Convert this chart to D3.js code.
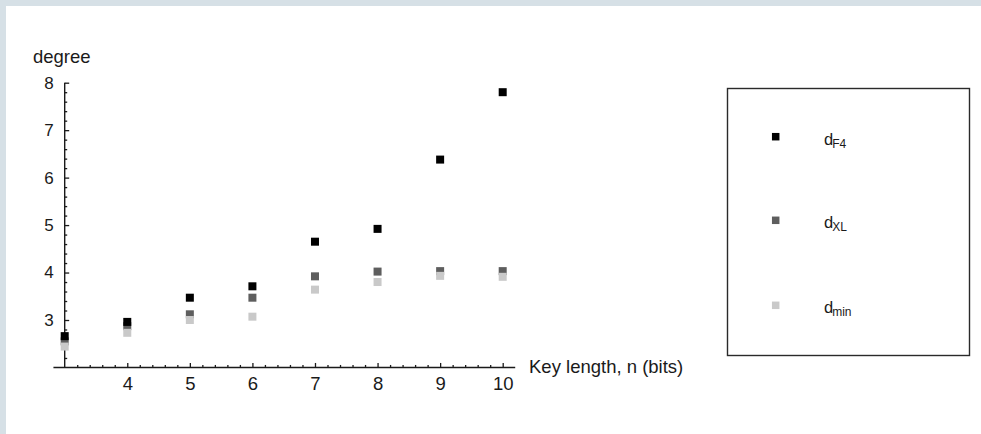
<!DOCTYPE html>
<html>
<head>
<meta charset="utf-8">
<script src="https://cdn.jsdelivr.net/npm/d3@7"></script>
<style>
  body { margin: 0; background: #fff; }
  svg text { font-family: "Liberation Sans", Arial, sans-serif; fill: #1a1a1a; }
</style>
</head>
<body>
<div id="chart"></div>
<script>
// key length n (bits)
var keyLength = [3, 4, 5, 6, 7, 8, 9, 10];
// degree values
var dF4  = [2.66, 2.96, 3.47, 3.71, 4.65, 4.92, 6.38, 7.80];
var dXL  = [2.55, 2.87, 3.12, 3.47, 3.92, 4.02, 4.03, 4.03];
var dMin = [2.44, 2.73, 3.00, 3.07, 3.64, 3.80, 3.93, 3.91];
var xTicks = [4, 5, 6, 7, 8, 9, 10];
var yTicks = [3, 4, 5, 6, 7, 8];
var seriesNames = ["dXL", "dmin", "dF4"];

var W = 981, H = 434;

var svg = d3.select("#chart")
    .append("svg")
    .attr("width", W)
    .attr("height", H);

// light frame on top and left
svg.append("rect").attr("x", 0).attr("y", 0).attr("width", W).attr("height", H).attr("fill", "#d6e0e6");
svg.append("rect").attr("x", 6).attr("y", 6).attr("width", W - 6).attr("height", H - 6).attr("fill", "#fff");

var x = d3.scaleLinear().domain([3, 10]).range([64.7, 502.7]);
var y = d3.scaleLinear().domain([3, 8]).range([320, 82.7]);

var axisColor = "#1a1a1a";
var y0 = y(2);  // x axis crosses at degree 2

// axis lines
svg.append("line")
    .attr("x1", x(2.82)).attr("x2", x(10.2))
    .attr("y1", y0).attr("y2", y0)
    .attr("stroke", axisColor).attr("stroke-width", 1.4);
svg.append("line")
    .attr("x1", x(3)).attr("x2", x(3))
    .attr("y1", y(8)).attr("y2", y0)
    .attr("stroke", axisColor).attr("stroke-width", 1.4);

// minor ticks
var xMinor = d3.range(3.2, 10.01, 0.2).filter(function(v) { return Math.abs(v - Math.round(v)) > 0.01; });
var yMinor = d3.range(2.2, 8.0, 0.2).filter(function(v) { return Math.abs(v - Math.round(v)) > 0.01; });

var xAxis = svg.append("g")
    .attr("transform", "translate(0," + y0 + ")")
    .call(d3.axisBottom(x).tickValues(xTicks).tickSizeInner(-4.5).tickSizeOuter(0).tickPadding(9).tickFormat(d3.format("d")));
xAxis.select(".domain").remove();
xAxis.selectAll("line").attr("stroke", axisColor).attr("stroke-width", 1.3);
xAxis.selectAll("text").attr("font-size", 18.5).attr("fill", "#1a1a1a").attr("font-family", null);

var xAxisMinor = svg.append("g")
    .attr("transform", "translate(0," + y0 + ")")
    .call(d3.axisBottom(x).tickValues(xMinor).tickSizeInner(-2.5).tickSizeOuter(0).tickFormat(""));
xAxisMinor.select(".domain").remove();
xAxisMinor.selectAll("line").attr("stroke", axisColor).attr("stroke-width", 1.3);

var yAxis = svg.append("g")
    .attr("transform", "translate(" + x(3) + ",0)")
    .call(d3.axisLeft(y).tickValues(yTicks).tickSizeInner(-4.5).tickSizeOuter(0).tickPadding(11).tickFormat(d3.format("d")));
yAxis.select(".domain").remove();
yAxis.selectAll("line").attr("stroke", axisColor).attr("stroke-width", 1.3);
yAxis.selectAll("text").attr("font-size", 17).attr("fill", "#1a1a1a").attr("font-family", null);

var yAxisMinor = svg.append("g")
    .attr("transform", "translate(" + x(3) + ",0)")
    .call(d3.axisLeft(y).tickValues(yMinor).tickSizeInner(-2.5).tickSizeOuter(0).tickFormat(""));
yAxisMinor.select(".domain").remove();
yAxisMinor.selectAll("line").attr("stroke", axisColor).attr("stroke-width", 1.3);

// axis labels
svg.append("text")
    .attr("x", 33).attr("y", 63)
    .attr("font-size", 18.5)
    .text("degree");
svg.append("text")
    .attr("x", 529).attr("y", 373)
    .attr("font-size", 18.5)
    .text("Key length, n (bits)");

// points (drawn dXL, dmin, then dF4 on top)
var colors = { dF4: "#000000", dXL: "#5e5e5e", dmin: "#c9c9c9" };
var seriesData = { dF4: dF4, dXL: dXL, dmin: dMin };
var sq = 8;

seriesNames.forEach(function(name) {
    svg.append("g")
        .selectAll("rect")
        .data(keyLength.map(function(k, i) { return { k: k, v: seriesData[name][i] }; }))
        .enter()
        .append("rect")
        .attr("x", function(d) { return x(d.k) - sq / 2; })
        .attr("y", function(d) { return y(d.v) - sq / 2; })
        .attr("width", sq)
        .attr("height", sq)
        .attr("fill", colors[name]);
});

// legend
var legend = svg.append("g");
legend.append("rect")
    .attr("x", 727.5).attr("y", 88.5)
    .attr("width", 242).attr("height", 267)
    .attr("fill", "#fff")
    .attr("stroke", "#2a2a2a")
    .attr("stroke-width", 1.4);

var legendItems = [
    { name: "dF4", sub: "F4", cy: 136.7 },
    { name: "dXL", sub: "XL", cy: 220.3 },
    { name: "dmin", sub: "min", cy: 305.3 }
];
var lsq = 7.5;

legendItems.forEach(function(it) {
    legend.append("rect")
        .attr("x", 775.7 - lsq / 2).attr("y", it.cy - lsq / 2)
        .attr("width", lsq).attr("height", lsq)
        .attr("fill", colors[it.name]);
    var t = legend.append("text")
        .attr("x", 824).attr("y", it.cy + 8)
        .attr("font-size", 16.5);
    t.append("tspan").text("d");
    t.append("tspan")
        .attr("font-size", 12)
        .attr("dx", -1)
        .attr("dy", 3)
        .text(it.sub);
});
</script>
</body>
</html>
